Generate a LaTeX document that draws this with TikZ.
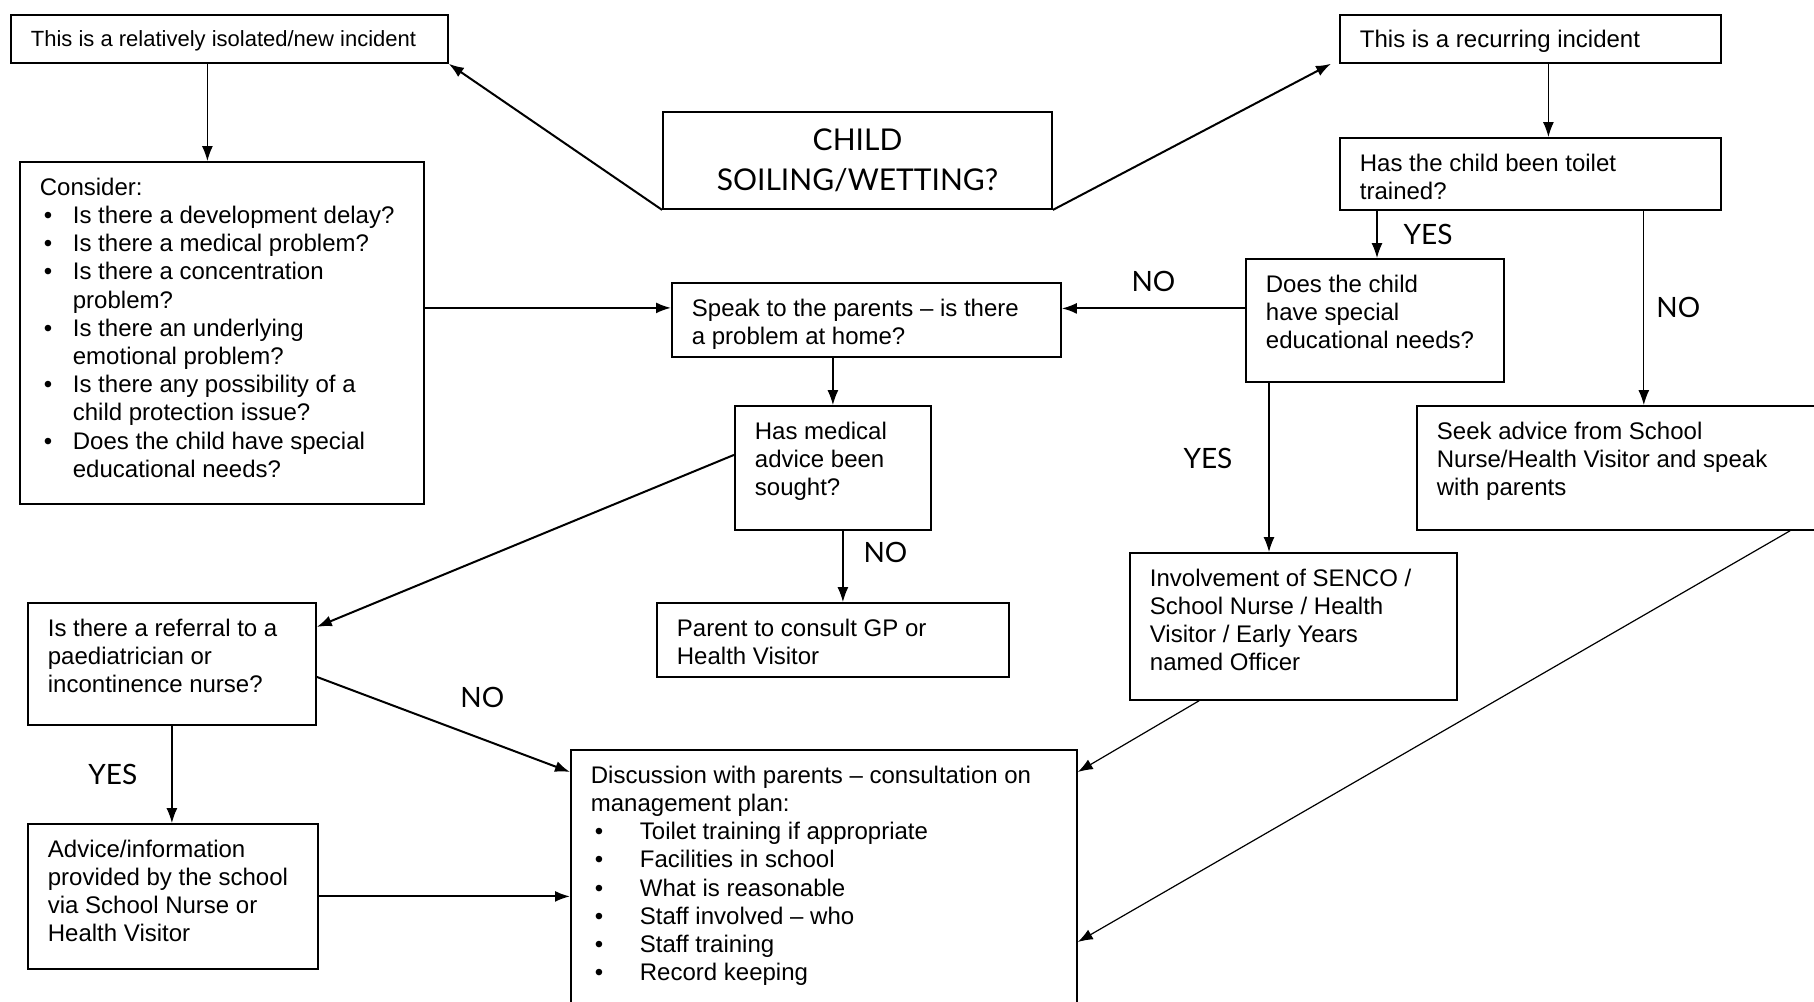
\documentclass[tikz,border=0pt]{standalone}
\usepackage{fontspec}
\setmainfont{Liberation Sans}
\newfontfamily\gillfont{Lato}
\usetikzlibrary{arrows.meta}
\usetikzlibrary{positioning}

\newcommand{\boxtext}[4][t]{\parbox[c][#3][#1]{#2}{\raggedright\vspace*{2pt}#4}}
\newcommand{\bul}[1]{\makebox[#1][l]{\hspace{2pt}\textbullet}}

\begin{document}
\begin{tikzpicture}[x=0.5pt, y=-0.5pt,
  box/.style={draw, line width=0.9pt, anchor=north west, inner xsep=10pt, inner ysep=6pt,
    font=\fontsize{12}{14.1}\selectfont},
  arr/.style={-{Latex[length=7.5pt,width=5.5pt]}, line width=0.6pt},
  heavy/.style={arr, line width=1pt},
  lbl/.style={inner sep=0pt, font=\gillfont\fontsize{14}{16}\selectfont}]

  \useasboundingbox (0,0) rectangle (1814,1001);

  % top row
  \node[box] (iso) at (10,14) {\fontsize{11}{13}\selectfont\boxtext[c]{198.5pt}{12pt}{This is a relatively isolated/new incident}};
  \node[box] (rec) at (1339,14) {\boxtext[c]{170.5pt}{12pt}{This is a recurring incident}};
  \node[draw, line width=0.9pt, minimum width=194.5pt, minimum height=48.5pt, align=center,
    font=\gillfont\fontsize{15}{20}\selectfont] (child) at (857.5,160.5) {CHILD\\SOILING/WETTING?};

  % left side
  \node[box] (cons) at (19,161) {\boxtext{182pt}{159pt}{Consider:\\
    \bul{16.5pt}Is there a development delay?\\
    \bul{16.5pt}Is there a medical problem?\\
    \bul{16.5pt}Is there a concentration\\
    \hspace*{16.5pt}problem?\\
    \bul{16.5pt}Is there an underlying\\
    \hspace*{16.5pt}emotional problem?\\
    \bul{16.5pt}Is there any possibility of a\\
    \hspace*{16.5pt}child protection issue?\\
    \bul{16.5pt}Does the child have special\\
    \hspace*{16.5pt}educational needs?}};
  \node[box] (ref) at (27,602) {\boxtext{124pt}{49pt}{Is there a referral to a\\paediatrician or\\incontinence nurse?}};
  \node[box] (adv) at (27,823) {\boxtext{125pt}{60.5pt}{Advice/information\\provided by the school\\via School Nurse or\\Health Visitor}};

  % middle
  \node[box] (speak) at (671,282) {\boxtext{174.5pt}{25pt}{Speak to the parents – is there\\a problem at home?}};
  \node[box] (med) at (734,405) {\boxtext{78pt}{50pt}{Has medical\\advice been\\sought?}};
  \node[box] (gp) at (656,602) {\boxtext{156pt}{25pt}{Parent to consult GP or\\Health Visitor}};
  \node[box] (disc) at (570,749) {\boxtext{233pt}{123.5pt}{Discussion with parents – consultation on\\
    management plan:\\
    \bul{24.5pt}Toilet training if appropriate\\
    \bul{24.5pt}Facilities in school\\
    \bul{24.5pt}What is reasonable\\
    \bul{24.5pt}Staff involved – who\\
    \bul{24.5pt}Staff training\\
    \bul{24.5pt}Record keeping}};

  % right side
  \node[box] (toilet) at (1339,137) {\boxtext{170.5pt}{24pt}{Has the child been toilet\\trained?}};
  \node[box] (sen) at (1245,258) {\boxtext{109pt}{49.5pt}{Does the child\\have special\\educational needs?}};
  \node[box] (seek) at (1416,405) {\boxtext{190pt}{50pt}{Seek advice from School\\Nurse/Health Visitor and speak\\with parents}};
  \node[box] (inv) at (1129,552) {\boxtext{143.5pt}{61.5pt}{Involvement of SENCO /\\School Nurse / Health\\Visitor / Early Years\\named Officer}};

  % connectors
  \draw[heavy] (child.south west) -- (iso.south east);
  \draw[heavy] (child.south east) -- ([xshift=-4pt]rec.south west);
  \draw[arr] ([xshift=-11pt]iso.south) -- ([xshift=-11pt]iso.south |- cons.north);
  \draw[arr] ([xshift=9pt]rec.south) -- ([xshift=9pt]rec.south |- toilet.north);
  \draw[arr] ([xshift=19pt]toilet.south west) -- ([xshift=19pt]toilet.south west |- sen.north)
    node[lbl, midway, right=13pt] {YES};
  \draw[arr] ([xshift=-39pt]toilet.south east) -- ([xshift=-39pt]toilet.south east |- seek.north)
    node[lbl, midway, right=6pt] {NO};
  \draw[heavy] ([yshift=6pt]sen.west) -- ([yshift=6pt]sen.west -| speak.east)
    node[lbl, midway, above=8pt] {NO};
  \draw[heavy] ([yshift=12.5pt]cons.east) -- ([yshift=12.5pt]cons.east -| speak.west);
  \draw[arr] (speak.south -| med.north) -- (med.north);
  \draw[arr] ([xshift=5pt]med.south) -- ([xshift=5pt]med.south |- gp.north)
    node[lbl, pos=0.3, right=10pt] {NO};
  \draw[heavy] ([yshift=6.5pt]med.west) -- ([yshift=18.5pt]ref.east);
  \draw[arr] ([xshift=12pt]sen.south west) -- ([xshift=12pt]sen.south west |- inv.north)
    node[lbl, pos=0.45, left=18pt] {YES};
  \draw[heavy] ([yshift=-6.5pt]ref.east) -- ([yshift=-11.5pt]disc.north west)
    node[lbl, midway, above right=8pt and 8pt] {NO};
  \draw[arr] (ref.south) -- (ref.south |- adv.north)
    node[lbl, midway, left=17pt] {YES};
  \draw[heavy] (adv.east) -- (adv.east -| disc.west);
  \draw[arr] ([xshift=35pt]inv.south west) -- ([yshift=-11.5pt]disc.north east);
  \draw[arr] ([xshift=187pt]seek.south west) -- ([yshift=-96.5pt]disc.north east);

\end{tikzpicture}
\end{document}
